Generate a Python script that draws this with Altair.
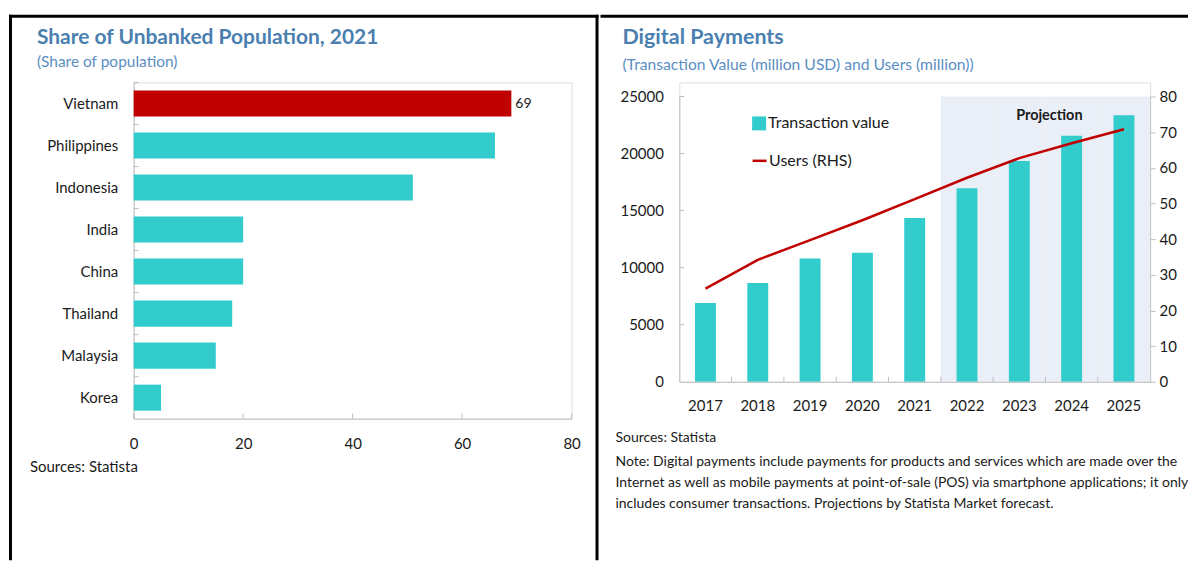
import altair as alt
import pandas as pd

# ---------------- data ----------------
countries = ["Vietnam", "Philippines", "Indonesia", "India", "China", "Thailand", "Malaysia", "Korea"]
unbanked = [69, 66, 51, 20, 20, 18, 15, 5]
highlight = ["Vietnam", "Other", "Other", "Other", "Other", "Other", "Other", "Other"]
left_x_ticks = [0, 20, 40, 60, 80]

years = ["2017", "2018", "2019", "2020", "2021", "2022", "2023", "2024", "2025"]
txn_value = [6900, 8650, 10800, 11300, 14350, 16950, 19350, 21550, 23350]
users = [26.1, 34.2, 39.7, 45.3, 51.2, 57.2, 62.7, 66.9, 70.8]
projection_years = ["2022", "2023", "2024", "2025"]
tv_ticks = [0, 5000, 10000, 15000, 20000, 25000]
user_ticks = [0, 10, 20, 30, 40, 50, 60, 70, 80]

left_title = "Share of Unbanked Population, 2021"
left_subtitle = "(Share of population)"
right_title = "Digital Payments"
right_subtitle = "(Transaction Value (million USD) and Users (million))"
source_text = "Sources: Statista"
note_lines = [
    "Note: Digital payments include payments for products and services which are made over the",
    "Internet as well as mobile payments at point-of-sale (POS) via smartphone applications; it only",
    "includes consumer transactions. Projections by Statista Market forecast.",
]

# ---------------- style ----------------
FONT = "Lato"
TEAL = "#33CCCC"
RED = "#C00000"
AXIS = "#BFBFBF"
TITLE = "#4A7FB0"
SUB = "#5B8EC2"
INK = "#1a1a1a"
SHADE = "#EAEFF7"

WL, HL = 439, 337
WR, HR = 472, 300      # right plot group; value range runs from 14 to 300
TOP_R = 14

one = pd.DataFrame({"k": [0]})


def box(x1, x2, y1, y2, color="black"):
    return alt.Chart(one).mark_rect(color=color).encode(
        x=alt.value(x1), x2=alt.value(x2), y=alt.value(y1), y2=alt.value(y2)
    )


def label(s, x, y, size, color=INK, bold=False, align="left"):
    return alt.Chart(one).mark_text(
        text=s, align=align, baseline="middle", fontSize=size, font=FONT,
        fontWeight="bold" if bold else "normal", color=color,
    ).encode(x=alt.value(x), y=alt.value(y))


# ---------------- left panel ----------------
dfL = pd.DataFrame({"country": countries, "value": unbanked, "hl": highlight})
ticksL_df = pd.DataFrame({"value": left_x_ticks})

scaleYL = alt.Scale(domain=countries, paddingInner=0.38, paddingOuter=0.19)
axisYL = alt.Axis(ticks=False, labelPadding=16, labelFontSize=15, labelColor=INK,
                  labelFont=FONT, domainColor=AXIS, labelLimit=300, grid=False)
scaleXL = alt.Scale(domain=[0, 80], nice=False)
axisXL = alt.Axis(values=left_x_ticks, ticks=False, labelPadding=18, grid=False,
                  labelFontSize=15, labelColor=INK, labelFont=FONT, domainColor=AXIS,
                  labelFlush=False)


def yL(**kw):
    return alt.Y("country:N", sort=countries, title=None, scale=scaleYL, axis=axisYL, **kw)


def xL():
    return alt.X("value:Q", title=None, scale=scaleXL, axis=axisXL)


barsL = alt.Chart(dfL).mark_bar().encode(
    x=xL(), y=yL(),
    color=alt.Color("hl:N", scale=alt.Scale(domain=["Vietnam", "Other"], range=[RED, TEAL]), legend=None),
)
valL = alt.Chart(dfL).transform_filter(alt.datum.country == "Vietnam").mark_text(
    align="left", baseline="middle", dx=4, fontSize=14, font=FONT, color=INK
).encode(x=xL(), y=yL(), text="value:Q")
xticksL = alt.Chart(ticksL_df).mark_rule(color=AXIS).encode(
    x=xL(), y=alt.value(HL - 5), y2=alt.value(HL)
)
yticksL = alt.Chart(dfL).mark_rule(color=AXIS, yOffset=-8).encode(
    y=yL(bandPosition=0), x=alt.value(0), x2=alt.value(5)
)

left = alt.layer(
    barsL, valL, xticksL, yticksL,
    box(-125, -122, -68, 479),      # left frame
    box(-125, 466, -68, -65),       # top frame
    box(463, 466, -68, 479),        # divider
    label(left_title, -97, -45, 21, TITLE, bold=True),
    label(left_subtitle, -97, -21, 15.5, SUB),
    label(source_text, -104, 385, 15),
).properties(width=WL, height=HL)

# ---------------- right panel ----------------
dfR = pd.DataFrame({"year": years, "txn": txn_value, "users": users,
                    "s1": ["Transaction value"] * len(years),
                    "s2": ["Users (RHS)"] * len(years)})
shade_df = pd.DataFrame({"year": projection_years})
xt_df = pd.DataFrame({"year": years[1:]})
yt_df = pd.DataFrame({"txn": tv_ticks[1:]})

scaleXR = alt.Scale(domain=years, paddingInner=0, paddingOuter=0)
axisXR = alt.Axis(ticks=False, labelPadding=17, labelAngle=0, labelFontSize=15,
                  labelColor=INK, labelFont=FONT, domainColor=AXIS, grid=False)
scaleYR = alt.Scale(domain=[0, 25000], nice=False, range=[HR, TOP_R])
axisYR = alt.Axis(values=tv_ticks, format="d", ticks=False, labelPadding=16, grid=False,
                  labelFontSize=15, labelColor=INK, labelFont=FONT, domainColor=AXIS)


def xR(**kw):
    return alt.X("year:N", title=None, scale=scaleXR, axis=axisXR, **kw)


def yR():
    return alt.Y("txn:Q", title=None, scale=scaleYR, axis=axisYR)


shade = alt.Chart(shade_df).mark_rect(color=SHADE).encode(
    x=xR(), y=alt.value(TOP_R), y2=alt.value(HR)
)
barsR = alt.Chart(dfR).mark_bar(width={"band": 0.4}).encode(
    x=xR(), y=yR(),
    fill=alt.Fill("s1:N", scale=alt.Scale(range=[TEAL]),
                  legend=alt.Legend(title=None, orient="none", legendX=72, legendY=33,
                                    symbolType="square", symbolSize=196, symbolStrokeWidth=0,
                                    labelFontSize=16, labelFont=FONT, labelColor=INK,
                                    labelOffset=1, padding=0, labelLimit=300)),
)
xticksR = alt.Chart(xt_df).mark_rule(color=AXIS).encode(
    x=xR(bandPosition=0), y=alt.value(HR - 5), y2=alt.value(HR)
)
yticksR = alt.Chart(yt_df).mark_rule(color=AXIS).encode(
    y=yR(), x=alt.value(0), x2=alt.value(5)
)

bars_group = alt.layer(
    shade, barsR, xticksR, yticksR,
    box(-79, 510, -68, -65),        # top frame
    label(right_title, -57, -45, 21.5, TITLE, bold=True),
    label(right_subtitle, -57, -18, 15.7, SUB),
    label("Projection", 371, 34, 14.5, bold=True, align="center"),
    label(source_text, -64, 356, 14),
    label(note_lines[0], -64, 380, 14),
    label(note_lines[1], -64, 402, 14),
    label(note_lines[2], -64, 423, 14),
)

lineR = alt.Chart(dfR).mark_line(strokeWidth=2.5).encode(
    x=xR(),
    y=alt.Y("users:Q", title=None, scale=alt.Scale(domain=[0, 80], nice=False, range=[HR, TOP_R]),
            axis=alt.Axis(orient="right", values=user_ticks, tickSize=5, tickColor=AXIS,
                          labelPadding=4, grid=False, labelFontSize=15, labelColor=INK,
                          labelFont=FONT, domainColor=AXIS)),
    stroke=alt.Stroke("s2:N", scale=alt.Scale(range=[RED]),
                      legend=alt.Legend(title=None, orient="none", legendX=72, legendY=70,
                                        symbolType="stroke", symbolSize=196, symbolStrokeWidth=2.5,
                                        labelFontSize=16, labelFont=FONT, labelColor=INK,
                                        labelOffset=1, padding=0, labelLimit=300)),
)

right = alt.layer(bars_group, lineR).resolve_scale(y="independent").properties(width=WR, height=HR)

chart = alt.hconcat(left, right, spacing=0).resolve_legend(
    fill="independent", stroke="independent", color="independent"
).properties(
    padding={"left": 0, "top": 5, "right": 0, "bottom": 0}
).configure_view(stroke=None).configure(background="white")

chart.save("out.html", embed_options={"renderer": "svg", "actions": False})
